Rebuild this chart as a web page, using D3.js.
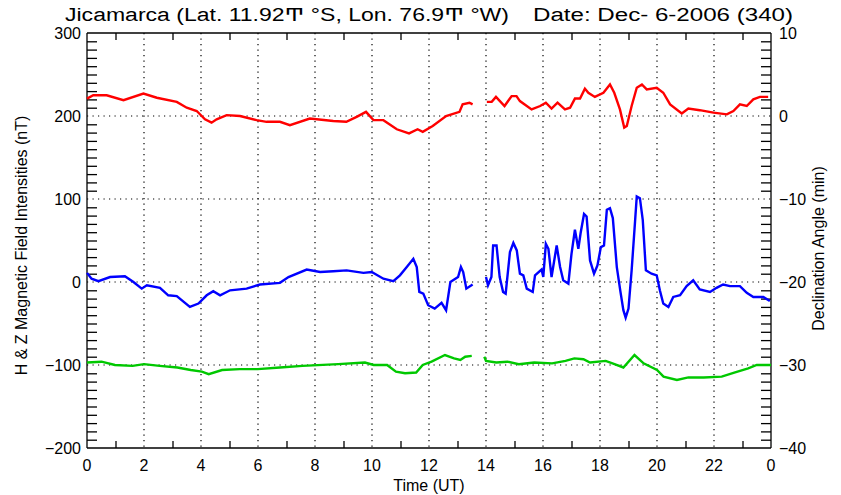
<!DOCTYPE html>
<html>
<head>
<meta charset="utf-8">
<script src="https://cdn.jsdelivr.net/npm/d3@7"></script>
<style>
  html, body { margin: 0; padding: 0; background: #fff; }
  svg { display: block; }
  text { font-family: "Liberation Sans", "DejaVu Sans", sans-serif; fill: #000; }
</style>
</head>
<body>
<svg id="chart" width="841" height="495"></svg>
<script>
// Magnetometer traces, Jicamarca, 6 Dec 2006 (hours UT vs nT, offset per component)
const redTime = [0, 0.22, 0.69, 1.28, 1.98, 2.45, 3.15, 3.5, 3.85, 4.14, 4.37, 4.55, 4.9, 5.37, 5.95, 6.3, 6.77, 7.12, 7.82, 8.64, 9.1, 9.46, 9.79, 10.05, 10.4, 10.87, 11.3, 11.6, 11.78, 12.13, 12.6, 13.07, 13.18, 13.42, 13.53,
  13.54,
  14.03, 14.2, 14.35, 14.65, 14.9, 15.07, 15.19, 15.6, 15.9, 16.1, 16.3, 16.51, 16.77, 16.95, 17.12, 17.3, 17.47, 17.59, 17.82, 18.12, 18.35, 18.5, 18.7, 18.85, 18.94, 19.11, 19.29, 19.47, 19.64, 19.99, 20.22, 20.46, 20.87, 21.1, 21.5, 21.98, 22.45, 22.68, 22.91, 23.15, 23.38, 23.61, 23.9];
const redVals = [221, 225, 225, 219, 227, 222, 217, 210, 206, 196, 192, 196, 201, 200, 195, 193, 193, 189, 197, 194, 193, 199, 205, 195, 195, 184, 179, 184, 181, 188, 200, 205, 214, 216, 214,
  null,
  217, 217, 223, 212, 224, 224, 218, 208, 212, 216, 209, 216, 208, 210, 221, 221, 233, 228, 223, 228, 238, 228, 208, 186, 188, 212, 234, 238, 232, 234, 228, 214, 203, 209, 207, 204, 202, 206, 214, 212, 220, 223, 223];

const blueTime = [0, 0.16, 0.4, 0.81, 1.33, 1.63, 1.92, 2.1, 2.56, 2.85, 3.15, 3.61, 3.91, 4.2, 4.43, 4.67, 5.02, 5.6, 6.07, 6.77, 7.07, 7.71, 8.18, 8.64, 9.11, 9.7, 9.99, 10.4, 10.75, 10.98, 11.22, 11.45, 11.57, 11.66, 11.8, 11.97, 12.2, 12.44, 12.6, 12.75, 13.02, 13.12, 13.2, 13.31, 13.49, 13.53,
  13.54,
  14.0, 14.07, 14.19, 14.25, 14.37, 14.48, 14.6, 14.69, 14.84, 14.96, 15.08, 15.19, 15.31, 15.43, 15.64, 15.72, 15.95, 16.01, 16.1, 16.19, 16.3, 16.48, 16.6, 16.71, 16.89, 17.0, 17.12, 17.24, 17.32, 17.44, 17.53, 17.65, 17.79, 17.91, 18.03, 18.14, 18.24, 18.35, 18.45, 18.59, 18.71, 18.82, 18.9, 19.0, 19.11, 19.23, 19.29, 19.4, 19.5, 19.61, 19.81, 19.99, 20.1, 20.22, 20.4, 20.57, 20.81, 21.04, 21.27, 21.5, 21.86, 22.09, 22.32, 22.56, 22.91, 23.15, 23.38, 23.73, 23.96];
const blueVals = [11, 4, 1, 6, 7, 0, -8, -4, -7, -16, -17, -30, -26, -16, -11, -16, -10, -8, -3, -1, 6, 15, 12, 13, 14, 11, 12, 4, 1, 8, 18, 28, 18, -12, -14, -28, -32, -25, -34, 0, 6, 18, 12, -8, -4, -3,
  null,
  6, -4, 6, 44, 44, 6, -12, -14, 36, 47, 38, 10, 8, -8, -12, 8, 15, 6, 46, 40, 6, 44, 18, 2, -2, 34, 63, 40, 59, 82, 79, 26, 10, 20, 42, 44, 87, 89, 77, 18, -10, -34, -43, -32, 14, 73, 103, 101, 75, 14, 10, 8, -10, -26, -30, -18, -16, -5, 2, -9, -12, -7, -3, -5, -5, -13, -18, -18, -23];

const greenTime = [0, 0.51, 0.98, 1.6, 2.0, 2.55, 3.17, 3.64, 4.03, 4.27, 4.74, 5.36, 5.99, 6.77, 7.56, 8.81, 9.75, 10.06, 10.53, 10.84, 11.16, 11.55, 11.78, 12.09, 12.56, 12.88, 13.1, 13.27, 13.5,
  13.6,
  13.94, 14.0, 14.36, 14.75, 15.15, 15.69, 16.32, 16.79, 17.1, 17.42, 17.65, 18.2, 18.51, 18.82, 19.21, 19.53, 20.0, 20.23, 20.7, 21.1, 21.64, 22.27, 22.74, 23.2, 23.5, 24.0];
const greenVals = [-97, -96, -100, -101, -99, -101, -103, -106, -108, -111, -106, -105, -105, -103, -101, -99, -97, -100, -100, -108, -110, -109, -100, -96, -88, -92, -94, -90, -89,
  null,
  -90, -95, -97, -96, -99, -97, -98, -95, -92, -93, -97, -95, -99, -103, -88, -98, -106, -114, -118, -115, -115, -114, -109, -104, -100, -100];

const xTickLabels = ["0", "2", "4", "6", "8", "10", "12", "14", "16", "18", "20", "22", "0"];
const leftTicks = [-200, -100, 0, 100, 200, 300];
const rightTicks = [-40, -30, -20, -10, 0, 10];

const titleLeft = "Jicamarca (Lat. 11.92Ͳ °S, Lon. 76.9Ͳ °W)";
const titleRight = "Date: Dec- 6-2006 (340)";

const svg = d3.select("#chart");
const m = { left: 87, right: 771, top: 33, bottom: 448 };

const x = d3.scaleLinear().domain([0, 24]).range([m.left, m.right]);
const y = d3.scaleLinear().domain([-200, 300]).range([m.bottom, m.top]);
const yR = d3.scaleLinear().domain([-40, 10]).range([m.bottom, m.top]);

// dotted grid
const grid = svg.append("g").attr("stroke", "#000").attr("stroke-width", 1.2)
  .attr("stroke-dasharray", "1.2,4.3");
d3.range(2, 24, 2).forEach(h => {
  grid.append("line").attr("x1", x(h)).attr("x2", x(h)).attr("y1", m.top).attr("y2", m.bottom);
});
[-100, 0, 100, 200].forEach(v => {
  grid.append("line").attr("x1", m.left).attr("x2", m.right).attr("y1", y(v)).attr("y2", y(v));
});

// axes (ticks drawn inward like the plotting package)
const xBottom = d3.axisBottom(x).tickValues(d3.range(1, 24, 2)).tickSize(-7).tickFormat("");
const xTop = d3.axisTop(x).tickValues(d3.range(1, 24, 2)).tickSize(-7).tickFormat("");
const yLeftMinor = d3.axisLeft(y).tickValues(d3.range(-190, 300, 10).filter(v => v % 100 !== 0)).tickSize(-10).tickFormat("");
const yRightMinor = d3.axisRight(yR).tickValues(d3.range(-39, 10, 1).filter(v => v % 10 !== 0)).tickSize(-10).tickFormat("");

function styleAxis(g) {
  g.selectAll("path").attr("stroke", "#000").attr("stroke-width", 1.3);
  g.selectAll("line").attr("stroke", "#000").attr("stroke-width", 1.3);
}
svg.append("g").attr("transform", `translate(0,${m.bottom})`).call(xBottom).call(g => g.select(".domain").attr("d", `M${m.left},0H${m.right}`)).call(styleAxis);
svg.append("g").attr("transform", `translate(0,${m.top})`).call(xTop).call(g => g.select(".domain").attr("d", `M${m.left},0H${m.right}`)).call(styleAxis);
svg.append("g").attr("transform", `translate(${m.left},0)`).call(yLeftMinor).call(g => g.select(".domain").attr("d", `M0,${m.top}V${m.bottom}`)).call(styleAxis);
svg.append("g").attr("transform", `translate(${m.right},0)`).call(yRightMinor).call(g => g.select(".domain").attr("d", `M0,${m.top}V${m.bottom}`)).call(styleAxis);

// tick labels
const lab = svg.append("g").attr("font-size", 16);
xTickLabels.forEach((t, i) => {
  lab.append("text").attr("x", x(i * 2)).attr("y", 471).attr("text-anchor", "middle").text(t);
});
leftTicks.forEach(v => {
  lab.append("text").attr("x", 81).attr("y", y(v) + 6).attr("text-anchor", "end")
    .text(v < 0 ? "\u2212" + Math.abs(v) : String(v));
});
rightTicks.forEach(v => {
  lab.append("text").attr("x", 779).attr("y", yR(v) + 6).attr("text-anchor", "start")
    .text(v < 0 ? "\u2212" + Math.abs(v) : String(v));
});

// axis titles
svg.append("text").attr("x", x(12)).attr("y", 491).attr("text-anchor", "middle")
  .attr("font-size", 16).text("Time (UT)");
svg.append("text").attr("transform", `translate(27,${(m.top + m.bottom) / 2 + 5}) rotate(-90)`)
  .attr("text-anchor", "middle").attr("font-size", 16).text("H & Z Magnetic Field Intensities (nT)");
svg.append("text").attr("transform", `translate(824,${(m.top + m.bottom) / 2 + 8}) rotate(-90)`)
  .attr("text-anchor", "middle").attr("font-size", 16).text("Declination Angle (min)");

// title
svg.append("text").attr("x", 65).attr("y", 21).attr("font-size", 18)
  .attr("textLength", 444).attr("lengthAdjust", "spacingAndGlyphs").text(titleLeft);
svg.append("text").attr("x", 533).attr("y", 21).attr("font-size", 18)
  .attr("textLength", 260).attr("lengthAdjust", "spacingAndGlyphs").text(titleRight);

// traces
const line = d3.line().defined(d => d[1] !== null).x(d => x(d[0])).y(d => y(d[1]));
const series = [
  { t: redTime, v: redVals, c: "#ff0000" },
  { t: blueTime, v: blueVals, c: "#0000ff" },
  { t: greenTime, v: greenVals, c: "#00c800" }
];
series.forEach(s => {
  svg.append("path").datum(d3.zip(s.t, s.v))
    .attr("fill", "none").attr("stroke", s.c).attr("stroke-width", 2.4)
    .attr("stroke-linejoin", "miter").attr("d", line);
});
</script>
</body>
</html>
